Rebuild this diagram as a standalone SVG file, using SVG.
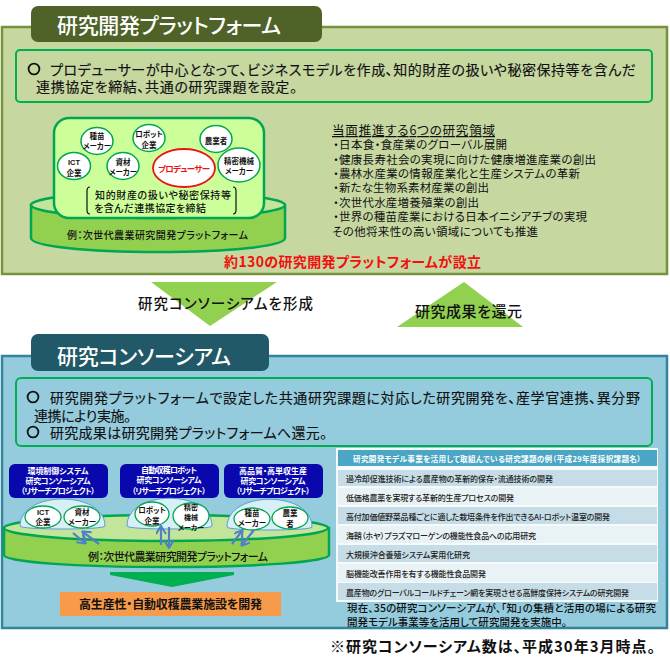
<svg xmlns="http://www.w3.org/2000/svg" width="670" height="672" viewBox="0 0 670 672">
<style>
text{font-family:"Noto Sans CJK JP","Liberation Sans",sans-serif;fill:#111;font-feature-settings:"palt"}
.b{font-weight:700}
.tab{fill:#fff;font-size:21px;font-weight:500}
.lead{font-size:14px;stroke:#111;stroke-width:.15px}
.area{font-size:11.5px}
.n{text-anchor:middle;font-size:7.5px;font-weight:700}
.w{fill:#fff;text-anchor:middle;font-size:8px;font-weight:700}
.row{font-size:8px;font-weight:500;fill:#222}
.wt{fill:#fff;stroke:#00a651;stroke-width:1.5}
.d{fill:#fff;stroke:#00a651;stroke-width:1.3}
.dome{fill:#d9eff6;stroke:#5b9bd5;stroke-width:1}
.a{stroke:#4f7fc8;stroke-width:2.2;fill:none;marker-end:url(#h)}
.gr{fill:#92d050}
.disk{fill:#92d050;stroke:#00a651;stroke-width:2.5}
.top{fill:#c3e59a;stroke:#00a651;stroke-width:2.5}
.inner{stroke:#00b050;stroke-width:2}
.blue{fill:#0808ac}
.ring{fill:none;stroke:#111;stroke-width:1.8}
</style>
<defs><marker id="h" markerWidth="10" markerHeight="12" refX="8" refY="5" orient="auto" markerUnits="userSpaceOnUse"><path d="M1 0L9 5L1 10" fill="none" stroke="#4f7fc8" stroke-width="2"/></marker></defs>
<rect width="670" height="672" fill="#fff"/>

<g id="platform-panel">
<rect x="2" y="27" width="665" height="247" fill="#c6d7a0" stroke="#76923c" stroke-width="2.5"/>
<rect x="31" y="6" width="291" height="36" rx="7" fill="#4f6228"/>
<text class="tab" x="57" y="33" textLength="224">研究開発プラットフォーム</text>
<rect class="inner" x="16" y="50" width="636" height="52" rx="4" fill="#c6d7a0"/>
<circle class="ring" cx="34" cy="69" r="5.4"/>
<text class="lead" x="50" y="75" textLength="586">プロデューサーが中心となって、ビジネスモデルを作成、知的財産の扱いや秘密保持等を含んだ</text>
<text class="lead" x="36" y="92" textLength="261">連携協定を締結、共通の研究課題を設定。</text>
<text class="area" x="332" y="135" font-size="12.5" style="font-size:12.5px" textLength="163" text-decoration="underline">当面推進する6つの研究領域</text>
<text class="area" x="333" y="149" textLength="174">・日本食・食産業のグローバル展開</text>
<text class="area" x="333" y="164" textLength="263">・健康長寿社会の実現に向けた健康増進産業の創出</text>
<text class="area" x="333" y="178" textLength="247">・農林水産業の情報産業化と生産システムの革新</text>
<text class="area" x="333" y="192" textLength="156">・新たな生物系素材産業の創出</text>
<text class="area" x="333" y="207" textLength="146">・次世代水産増養殖業の創出</text>
<text class="area" x="333" y="221" textLength="254">・世界の種苗産業における日本イニシアチブの実現</text>
<text class="area" x="332" y="236" textLength="206">その他将来性の高い領域についても推進</text>
<text class="b" x="224" y="267" font-size="14" style="fill:#f01010" textLength="257">約130の研究開発プラットフォームが設立</text>
</g>

<g id="platform-disk">
<path class="disk" d="M31 205V238C31 246 85 252 158 252S285 246 285 238V205Z"/>
<ellipse class="top" cx="158" cy="205" rx="127" ry="13"/>
<rect x="54" y="118" width="210" height="100" rx="15" fill="#ccff99" stroke="#00a651" stroke-width="2.5"/>
<text x="67" y="239" font-size="10" font-weight="500" textLength="181">例：次世代農業研究開発プラットフォーム</text>
<path d="M90 187Q87 187 87 191V210Q87 214 90 214M233 187Q236 187 236 191V210Q236 214 233 214" fill="none" stroke="#111" stroke-width="1.2"/>
<text x="95" y="199" font-size="10" font-weight="500" textLength="136">知的財産の扱いや秘密保持等</text>
<text x="94" y="212" font-size="10" font-weight="500" textLength="112">を含んだ連携協定を締結</text>
</g>
<g id="node-shubyo"><ellipse class="wt" cx="97" cy="141" rx="16" ry="13.5"/><text class="n" x="97" y="139">種苗</text><text class="n" x="97" y="149">メーカー</text></g>
<g id="node-robot"><ellipse class="wt" cx="149" cy="138" rx="16" ry="13.5"/><text class="n" x="149" y="137">ロボット</text><text class="n" x="149" y="148">企業</text></g>
<g id="node-nogyo"><ellipse class="wt" cx="216" cy="139" rx="16" ry="13.5"/><text class="n" x="216" y="144">農業者</text></g>
<g id="node-ict"><ellipse class="wt" cx="74" cy="166" rx="16.5" ry="13.5"/><text class="n" x="74" y="165" style="font-family:'Liberation Sans',sans-serif">ICT</text><text class="n" x="74" y="176">企業</text></g>
<g id="node-shizai"><ellipse class="wt" cx="123" cy="166" rx="16" ry="13.5"/><text class="n" x="123" y="165">資材</text><text class="n" x="123" y="175">メーカー</text></g>
<g id="node-producer"><ellipse cx="184" cy="168" rx="31" ry="19" fill="#fff" stroke="#ee1111" stroke-width="1.8"/><text class="n" x="184" y="172" style="fill:#ee1111;font-size:8.5px" textLength="52">プロデューサー</text></g>
<g id="node-seimitsu"><ellipse class="wt" cx="239" cy="165" rx="21" ry="17"/><text class="n" x="239" y="164">精密機械</text><text class="n" x="239" y="174">メーカー</text></g>

<g id="connectors-flow">
<polygon class="gr" points="151,282 277,282 210,326"/>
<polygon class="gr" points="397,327 523,327 464,282"/>
</g>
<text x="138" y="309" font-size="14.5" font-weight="500" textLength="175">研究コンソーシアムを形成</text>
<text x="415" y="317" font-size="15" font-weight="500" textLength="107">研究成果を還元</text>

<g id="consortium-panel">
<rect x="2" y="356" width="665" height="272" fill="#94ccde" stroke="#31859c" stroke-width="2.5"/>
<rect x="31" y="334" width="238" height="37" rx="7" fill="#215968"/>
<text class="tab" x="57" y="364" textLength="174">研究コンソーシアム</text>
<rect class="inner" x="16" y="378" width="636" height="68" rx="5" fill="#94ccde"/>
<circle class="ring" cx="33" cy="397" r="5.4"/>
<text class="lead" x="50" y="403" textLength="590">研究開発プラットフォームで設定した共通研究課題に対応した研究開発を、産学官連携、異分野</text>
<text class="lead" x="34" y="421" textLength="97">連携により実施。</text>
<circle class="ring" cx="33" cy="432" r="5.4"/>
<text class="lead" x="50" y="438" textLength="277">研究成果は研究開発プラットフォームへ還元。</text>
</g>

<g id="project-env"><rect class="blue" x="9" y="464" width="99" height="34" rx="6"/><text class="w" x="58" y="474" textLength="61">環境制御システム</text><text class="w" x="58" y="484" textLength="65">研究コンソーシアム</text><text class="w" x="58" y="494" textLength="74">（リサーチプロジェクト）</text></g>
<g id="project-robot"><rect class="blue" x="120" y="464" width="99" height="34" rx="6"/><text class="w" x="169" y="473" textLength="56">自動収穫ロボット</text><text class="w" x="169" y="483" textLength="65">研究コンソーシアム</text><text class="w" x="169" y="494" textLength="74">（リサーチプロジェクト）</text></g>
<g id="project-quality"><rect class="blue" x="224" y="464" width="99" height="34" rx="6"/><text class="w" x="273" y="474" textLength="68">高品質・高単収生産</text><text class="w" x="273" y="484" textLength="65">研究コンソーシアム</text><text class="w" x="273" y="494" textLength="74">（リサーチプロジェクト）</text></g>

<g id="consortium-disk">
<path class="disk" d="M4 528V555C4 562 75 567 166 567S329 562 329 555V528Z"/>
<ellipse class="top" cx="166" cy="528" rx="162" ry="13"/>
<text x="88" y="561" font-size="11" font-weight="500" textLength="180">例：次世代農業研究開発プラットフォーム</text>
</g>
<g id="dome-1"><path class="dome" d="M20 526C20 490 105 490 105 526C105 530 20 530 20 526Z"/><ellipse class="d" cx="43" cy="517" rx="18" ry="11"/><ellipse class="d" cx="82" cy="517" rx="18" ry="11"/><text class="n" x="43" y="515" style="font-family:'Liberation Sans',sans-serif">ICT</text><text class="n" x="43" y="525">企業</text><text class="n" x="82" y="515">資材</text><text class="n" x="82" y="525">メーカー</text></g>
<g id="dome-2"><path class="dome" d="M127 526C127 489 212 489 212 526C212 530 127 530 127 526Z"/><ellipse class="d" cx="152" cy="514" rx="17" ry="12"/><ellipse class="d" cx="191" cy="516" rx="18" ry="13"/><text class="n" x="152" y="513">ロボット</text><text class="n" x="152" y="524">企業</text><text class="n" x="191" y="510" style="font-size:7px">精密</text><text class="n" x="191" y="520" style="font-size:7px">機械</text><text class="n" x="191" y="530" style="font-size:7px">メーカー</text></g>
<g id="dome-3"><path class="dome" d="M227 527C227 490 312 490 312 527C312 531 227 531 227 527Z"/><ellipse class="d" cx="252" cy="519" rx="18" ry="11"/><ellipse class="d" cx="290" cy="518" rx="18" ry="11"/><text class="n" x="252" y="516">種苗</text><text class="n" x="252" y="526">メーカー</text><text class="n" x="290" y="516">農業</text><text class="n" x="290" y="527">者</text></g>

<g id="connectors-exchange">
<path class="a" d="M73 533L85 543"/><path class="a" d="M99 544L83 532"/>
<path class="a" d="M161 545V527"/><path class="a" d="M169 527V547"/>
<path class="a" d="M232 544L242 531"/><path class="a" d="M254 530L242 545"/>
<polygon points="110,572 234,572 234,575 172,587 110,575" fill="#00b050"/>
</g>
<g id="result"><rect x="60" y="592" width="221" height="24" fill="#f79a4a"/><text x="79" y="609" font-size="12" font-weight="700" textLength="183">高生産性・自動収穫農業施設を開発</text></g>

<g id="research-table">
<rect x="336" y="448" width="322" height="154" fill="#fff" opacity=".9"/>
<rect x="338" y="450" width="319" height="16" fill="#4aa6c4"/>
<text x="353" y="462" font-size="7.6" font-weight="700" style="fill:#fff" textLength="288">研究開発モデル事業を活用して取組んでいる研究課題の例（平成29年度採択課題名）</text>
<rect x="338" y="470" width="319" height="16" fill="#c6dde7"/><rect x="338" y="488" width="319" height="17" fill="#e9f2f5"/><rect x="338" y="507" width="319" height="17" fill="#c6dde7"/><rect x="338" y="526" width="319" height="17" fill="#e9f2f5"/><rect x="338" y="545" width="319" height="17" fill="#c6dde7"/><rect x="338" y="564" width="319" height="18" fill="#e9f2f5"/><rect x="338" y="583" width="319" height="17" fill="#c6dde7"/>
<text class="row" x="346" y="482" textLength="207">過冷却促進技術による農産物の革新的保存・流通技術の開発</text>
<text class="row" x="346" y="501" textLength="168">低価格農薬を実現する革新的生産プロセスの開発</text>
<text class="row" x="346" y="520" textLength="264">高付加価値野菜品種ごとに適した栽培条件を作出できるAI-ロボット温室の開発</text>
<text class="row" x="346" y="539" textLength="190">海鞘（ホヤ）プラズマローゲンの機能性食品への応用研究</text>
<text class="row" x="346" y="558" textLength="124">大規模沖合養殖システム実用化研究</text>
<text class="row" x="346" y="577" textLength="140">脳機能改善作用を有する機能性食品開発</text>
<text class="row" x="346" y="596" textLength="283">農産物のグローバルコールドチェーン網を実現させる高鮮度保持システムの研究開発</text>
</g>
<text x="347" y="612" font-size="10.5" font-weight="500" textLength="309">現在、35の研究コンソーシアムが、「知」の集積と活用の場による研究</text>
<text x="347" y="626" font-size="10.5" font-weight="500" textLength="220">開発モデル事業等を活用して研究開発を実施中。</text>
<text x="330" y="652" font-size="15" font-weight="700" textLength="325">※研究コンソーシアム数は、平成30年3月時点。</text>
</svg>
